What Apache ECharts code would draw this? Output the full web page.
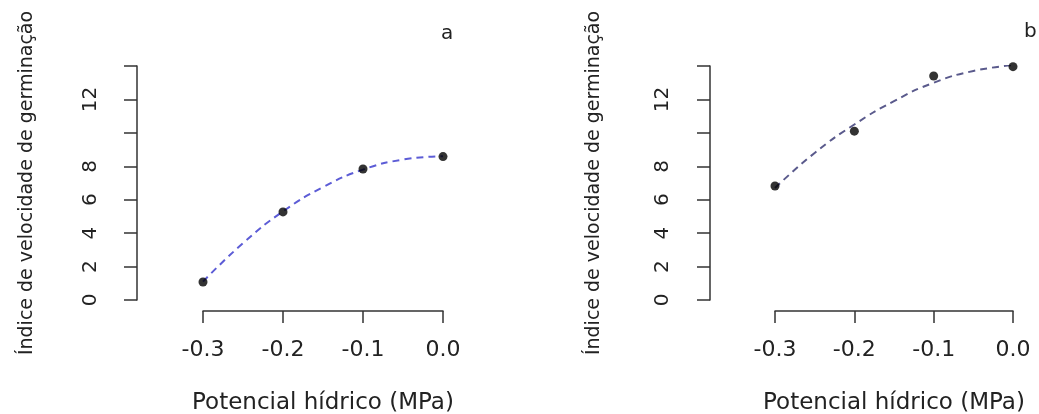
<!DOCTYPE html>
<html>
<head>
<meta charset="utf-8">
<script src="https://cdn.jsdelivr.net/npm/echarts@6/dist/echarts.min.js"></script>
<style>html,body{margin:0;padding:0;background:#fff}#c{width:1039px;height:414px}</style>
</head>
<body>
<div id="c"></div>
<script>
// Data
var xPoints = [-0.3, -0.2, -0.1, 0.0];
var yPointsA = [1.08, 5.27, 7.84, 8.58];
var yPointsB = [6.82, 10.1, 13.4, 13.96];
var xCurve = [-0.3, -0.25, -0.2, -0.15, -0.1, -0.05, 0.0];
var yCurveA = [1.1, 3.4, 5.3, 6.75, 7.8, 8.4, 8.6];
var yCurveB = [6.7, 8.8, 10.5, 11.9, 13.0, 13.7, 14.05];
var xTicks = [-0.3, -0.2, -0.1, 0.0];
var yTickLabels = [0, 2, 4, 6, 8, 12];
var panelLabels = ['a', 'b'];
var xTitle = 'Potencial hídrico (MPa)';
var yTitle = 'Índice de velocidade de germinação';

function pairs(xs, ys) { return xs.map(function (x, i) { return [x, ys[i]]; }); }

var FONT = 'DejaVu Sans';
var axisColor = '#333';

function xAxisCfg(gi) {
  return {
    type: 'value', gridIndex: gi, min: -0.3, max: 0, interval: 0.1,
    offset: 11,
    axisLine: { show: true, onZero: false, lineStyle: { color: axisColor, width: 1.5 } },
    axisTick: { show: true, length: 12, lineStyle: { color: axisColor, width: 1.5 } },
    splitLine: { show: false },
    axisLabel: { fontFamily: FONT, fontSize: 22, color: '#222', margin: 28,
      formatter: function (v) { return v.toFixed(1); } },
    name: xTitle, nameLocation: 'middle', nameGap: 81,
    nameTextStyle: { fontFamily: FONT, fontSize: 23, color: '#222' }
  };
}
function yAxisCfg(gi, gap, margin) {
  return {
    type: 'value', gridIndex: gi, min: 0, max: 14, interval: 2,
    offset: gi === 0 ? 66 : 65,
    axisLine: { show: true, onZero: false, lineStyle: { color: axisColor, width: 1.5 } },
    axisTick: { show: true, length: 13, lineStyle: { color: axisColor, width: 1.5 } },
    splitLine: { show: false },
    axisLabel: { fontFamily: FONT, fontSize: 20, color: '#222', rotate: 90, margin: margin,
      formatter: function (v) { return yTickLabels.indexOf(v) >= 0 ? String(v) : ''; } },
    name: yTitle, nameLocation: 'middle', nameGap: gap, nameRotate: 90,
    nameTextStyle: { fontFamily: FONT, fontSize: 19, color: '#222' }
  };
}

var chart = echarts.init(document.getElementById('c'), null, { renderer: 'canvas' });
chart.setOption({
  backgroundColor: '#fff',
  animation: false,
  grid: [
    { left: 203, top: 66, width: 240, height: 234, containLabel: false, outerBoundsMode: 'none' },
    { left: 775, top: 66, width: 238, height: 234, containLabel: false, outerBoundsMode: 'none' }
  ],
  xAxis: [xAxisCfg(0), xAxisCfg(1)],
  yAxis: [yAxisCfg(0, 100, 36), yAxisCfg(1, 106, 37)],
  title: [
    { text: panelLabels[0], left: 436, top: 19, textStyle: { fontFamily: FONT, fontSize: 20, fontWeight: 'normal', color: '#222' } },
    { text: panelLabels[1], left: 1019, top: 17, textStyle: { fontFamily: FONT, fontSize: 20, fontWeight: 'normal', color: '#222' } }
  ],
  series: [
    { type: 'line', xAxisIndex: 0, yAxisIndex: 0, data: pairs(xCurve, yCurveA), smooth: true, symbol: 'none',
      lineStyle: { color: '#5c5cd6', width: 2, type: [7, 5] }, z: 2 },
    { type: 'scatter', xAxisIndex: 0, yAxisIndex: 0, data: pairs(xPoints, yPointsA), symbolSize: 9,
      itemStyle: { color: '#000000' }, z: 3 },
    { type: 'line', xAxisIndex: 1, yAxisIndex: 1, data: pairs(xCurve, yCurveB), smooth: true, symbol: 'none',
      lineStyle: { color: '#5a5a8c', width: 2, type: [7, 5] }, z: 2 },
    { type: 'scatter', xAxisIndex: 1, yAxisIndex: 1, data: pairs(xPoints, yPointsB), symbolSize: 9,
      itemStyle: { color: '#000000' }, z: 3 }
  ]
});
</script>
</body>
</html>
